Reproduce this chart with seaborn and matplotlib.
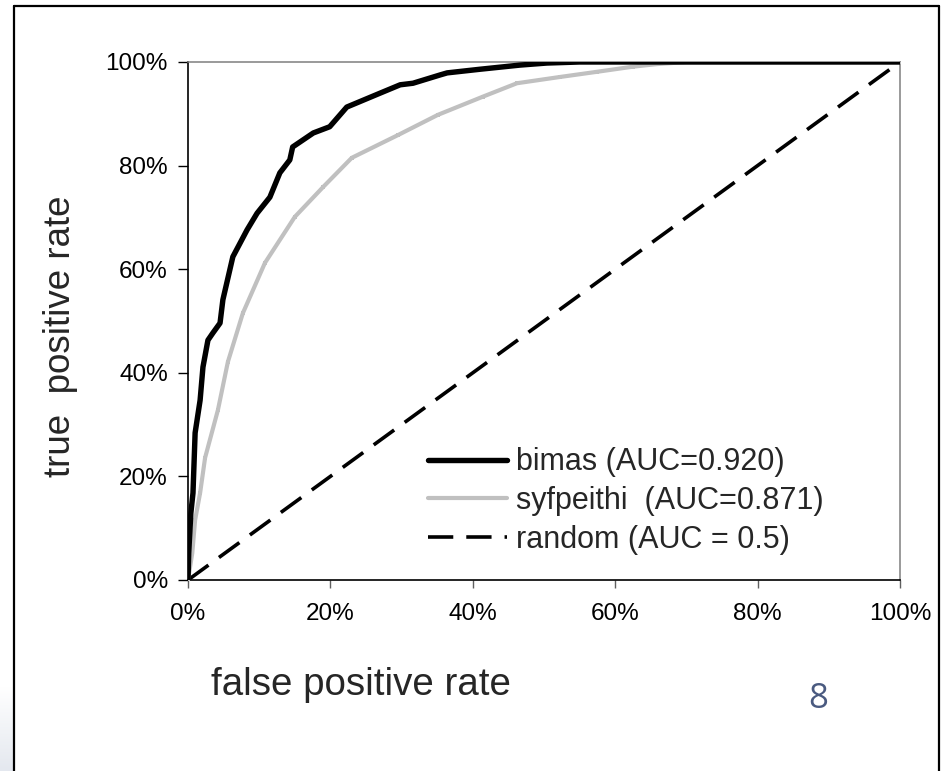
import matplotlib
matplotlib.use("Agg")
import matplotlib.pyplot as plt
import matplotlib.ticker as mticker
from matplotlib.lines import Line2D
import numpy as np
import pandas as pd
import seaborn as sns

# ROC curves (fractions)
bimas_fpr = [0, 0.001, 0.004, 0.007, 0.010, 0.017, 0.021, 0.028, 0.035, 0.045, 0.049,
             0.063, 0.083, 0.097, 0.115, 0.129, 0.143, 0.147, 0.176, 0.199, 0.223,
             0.270, 0.298, 0.316, 0.354, 0.364, 0.410, 0.466, 0.504, 0.55, 0.60,
             0.70, 0.80, 0.90, 1.0]
bimas_tpr = [0, 0.052, 0.129, 0.168, 0.284, 0.347, 0.411, 0.463, 0.477, 0.496, 0.541,
             0.624, 0.676, 0.708, 0.739, 0.786, 0.811, 0.836, 0.863, 0.875, 0.913,
             0.940, 0.956, 0.959, 0.975, 0.979, 0.986, 0.994, 0.998, 1.0, 1.0,
             1.0, 1.0, 1.0, 1.0]

syf_fpr = [0, 0.006, 0.010, 0.017, 0.024, 0.042, 0.056, 0.077, 0.108, 0.150, 0.190,
           0.230, 0.295, 0.351, 0.414, 0.462, 0.522, 0.574, 0.625, 0.659, 0.70,
           0.80, 0.90, 1.0]
syf_tpr = [0, 0.052, 0.116, 0.168, 0.236, 0.328, 0.421, 0.515, 0.612, 0.701, 0.759,
           0.815, 0.859, 0.898, 0.933, 0.959, 0.971, 0.981, 0.991, 0.996, 1.0,
           1.0, 1.0, 1.0]

random_fpr = [0, 1]
random_tpr = [0, 1]

labels = ["bimas (AUC=0.920)", "syfpeithi  (AUC=0.871)", "random (AUC = 0.5)"]
ticks = [0, 0.2, 0.4, 0.6, 0.8, 1.0]

sns.set_theme(style="white")
plt.rcParams["font.family"] = ["Liberation Sans", "DejaVu Sans"]

fig = plt.figure(figsize=(9.47, 7.71), dpi=100)
ax = fig.add_axes([188 / 947, 1 - 580 / 771, 712 / 947, 518 / 771])

bimas = pd.DataFrame({"fpr": bimas_fpr, "tpr": bimas_tpr})
syf = pd.DataFrame({"fpr": syf_fpr, "tpr": syf_tpr})
rnd = pd.DataFrame({"fpr": random_fpr, "tpr": random_tpr})

sns.lineplot(data=rnd, x="fpr", y="tpr", ax=ax, color="black", lw=2.6,
             estimator=None, sort=False, label=labels[2], zorder=2)
ax.lines[-1].set_dashes([7, 3.6])
sns.lineplot(data=syf, x="fpr", y="tpr", ax=ax, color="#c0c0c0", lw=3.0,
             estimator=None, sort=False, label=labels[1], zorder=3,
             marker="s", markersize=2.5, markeredgewidth=0)
sns.lineplot(data=bimas, x="fpr", y="tpr", ax=ax, color="black", lw=3.9,
             estimator=None, sort=False, label=labels[0], zorder=4)

ax.set_xlim(0, 1)
ax.set_ylim(0, 1)
ax.set_xticks(ticks)
ax.set_yticks(ticks)
ax.xaxis.set_major_formatter(mticker.PercentFormatter(1.0, decimals=0))
ax.yaxis.set_major_formatter(mticker.PercentFormatter(1.0, decimals=0))
ax.tick_params(axis="x", direction="out", length=6, width=1, color="#606060",
               pad=10.5, labelsize=17.5, labelcolor="black", bottom=True)
ax.tick_params(axis="y", direction="out", length=7, width=1, color="black",
               pad=7.5, labelsize=17.5, labelcolor="black", left=True)
ax.set_xlabel("")
ax.set_ylabel("true  positive rate", fontsize=26.5)
ax.yaxis.set_label_coords(-0.155, 0.471)

for side in ["left", "bottom"]:
    ax.spines[side].set_color("black")
    ax.spines[side].set_linewidth(1.2)
for side in ["top", "right"]:
    ax.spines[side].set_color("#7f7f7f")
    ax.spines[side].set_linewidth(1.1)

handles, labs = ax.get_legend_handles_labels()
order = [labs.index(l) for l in labels]
leg = ax.legend([handles[i] for i in order], [labs[i] for i in order],
                loc="center", bbox_to_anchor=(0.615, 0.1525), frameon=False,
                fontsize=22, handlelength=2.6, handletextpad=0.3,
                labelspacing=0.28)
for h in leg.get_lines():
    h.set_marker("")

fig.text(361 / 947, 1 - 685 / 771, "false positive rate", fontsize=27.7,
         ha="center", va="center")
fig.text(818 / 947, 1 - 699 / 771, "8", fontsize=25, color="#4a5a80",
         ha="center", va="center", family=["Open Sans", "DejaVu Sans"])

# slide shading at bottom left
gax = fig.add_axes([0, 0, 14 / 947, 85 / 771])
grad = np.linspace(0, 1, 50).reshape(-1, 1)
gax.imshow(grad, aspect="auto", cmap=matplotlib.colors.LinearSegmentedColormap.from_list(
    "g", ["#e4e8ef", "#ffffff"]), origin="lower")
gax.set_axis_off()

# slide frame
bx0, bx1, by1 = 14 / 947, 939 / 947, 1 - 6 / 771
for xs, ys in [([bx0, bx0], [0, by1]), ([bx0, bx1], [by1, by1]), ([bx1, bx1], [by1, 0])]:
    fig.add_artist(Line2D(xs, ys, color="black", lw=1.6, zorder=10))

fig.savefig("out.png", dpi=100)
